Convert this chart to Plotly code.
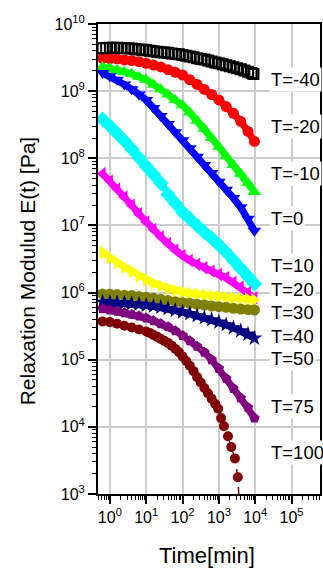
import plotly.graph_objects as go

# ---- data (time in min, modulus in Pa) ----
time_min = [0.63, 1.0, 1.58, 2.51, 3.98, 6.31, 10, 15.8, 25.1, 39.8, 63.1, 100,
            158, 251, 398, 631, 1000, 1585, 2512, 3981, 6310, 9500]
time_m40 = [0.63, 0.79, 1.0, 1.26, 1.58, 2.0, 2.51, 3.16, 3.98, 5.01, 6.31, 7.94, 10, 12.6,
            15.8, 20, 25.1, 31.6, 39.8, 50.1, 63.1, 79.4, 100, 126, 158, 200, 251, 316, 398,
            501, 631, 794, 1000, 1259, 1585, 1995, 2512, 3162, 3981, 5012, 6310, 7943, 8913]
time_100 = [0.63, 1.0, 1.58, 2.51, 3.98, 6.31, 10, 12.6, 15.8, 20, 25.1, 31.6, 39.8, 50.1,
            63.1, 79.4, 100, 126, 158, 200, 251, 316, 398, 501, 631, 794,
            955, 1148, 1380, 1778, 2188, 2754, 3311, 4169]

E_m40 = [4.365e9, 4.385e9, 4.416e9, 4.416e9, 4.416e9, 4.395e9, 4.365e9, 4.345e9, 4.315e9,
         4.246e9, 4.169e9, 4.121e9, 4.074e9, 4.009e9, 3.936e9, 3.873e9, 3.802e9, 3.758e9,
         3.715e9, 3.648e9, 3.589e9, 3.532e9, 3.467e9, 3.373e9, 3.273e9, 3.184e9, 3.090e9,
         3.020e9, 2.951e9, 2.851e9, 2.754e9, 2.679e9, 2.600e9, 2.512e9, 2.427e9, 2.344e9,
         2.265e9, 2.188e9, 2.113e9, 2.032e9, 1.950e9, 1.862e9, 1.799e9]
E_m20 = [3.09e9, 3.05e9, 3.02e9, 2.92e9, 2.85e9, 2.75e9, 2.60e9, 2.45e9, 2.29e9, 2.09e9, 1.91e9,
         1.74e9, 1.48e9, 1.26e9, 1.06e9, 8.91e8, 7.41e8, 5.89e8, 4.68e8, 3.55e8, 2.51e8, 1.78e8]
E_m10 = [2.29e9, 2.19e9, 2.07e9, 1.93e9, 1.80e9, 1.64e9, 1.48e9, 1.26e9, 1.07e9, 8.91e8, 7.41e8,
         6.17e8, 4.79e8, 3.63e8, 2.75e8, 2.00e8, 1.48e8, 1.07e8, 7.94e7, 5.89e7, 4.27e7, 3.16e7]
E_0 = [1.86e9, 1.66e9, 1.48e9, 1.26e9, 1.07e9, 8.91e8, 7.41e8, 5.62e8, 4.27e8, 3.24e8, 2.45e8,
       1.86e8, 1.41e8, 1.05e8, 7.94e7, 6.03e7, 4.47e7, 3.39e7, 2.57e7, 1.86e7, 1.26e7, 8.32e6]
E_10 = [3.80e8, 3.02e8, 2.34e8, 1.82e8, 1.38e8, 1.02e8, 7.59e7, 5.75e7, 4.27e7, 2.88e7, 2.14e7,
        1.58e7, 1.26e7, 1.00e7, 7.94e6, 6.46e6, 5.13e6, 3.98e6, 3.02e6, 2.29e6, 1.74e6, 1.35e6]
E_20 = [5.89e7, 4.57e7, 3.47e7, 2.63e7, 2.00e7, 1.48e7, 1.12e7, 8.71e6, 6.76e6, 5.37e6, 4.27e6,
        3.55e6, 3.02e6, 2.63e6, 2.34e6, 2.09e6, 1.86e6, 1.66e6, 1.41e6, 1.20e6, 1.00e6, 8.32e5]
E_30 = [3.98e6, 3.31e6, 2.82e6, 2.40e6, 2.09e6, 1.78e6, 1.55e6, 1.38e6, 1.26e6, 1.15e6, 1.07e6,
        1.02e6, 9.77e5, 9.44e5, 9.12e5, 8.91e5, 8.71e5, 8.51e5, 8.32e5, 8.13e5, 7.94e5, 7.76e5]
E_40 = [9.55e5, 9.44e5, 9.33e5, 9.12e5, 9.02e5, 8.71e5, 8.51e5, 8.22e5, 7.94e5, 7.59e5, 7.33e5,
        7.08e5, 6.92e5, 6.68e5, 6.53e5, 6.31e5, 6.17e5, 6.03e5, 5.82e5, 5.69e5, 5.56e5, 5.50e5]
E_50 = [7.24e5, 7.16e5, 7.08e5, 7.00e5, 6.84e5, 6.68e5, 6.46e5, 6.24e5, 6.03e5, 5.75e5, 5.43e5,
        5.13e5, 4.84e5, 4.52e5, 4.22e5, 3.94e5, 3.63e5, 3.31e5, 2.99e5, 2.69e5, 2.40e5, 2.09e5]
E_75 = [5.75e5, 5.50e5, 5.25e5, 5.01e5, 4.73e5, 4.47e5, 4.17e5, 3.80e5, 3.43e5, 3.09e5, 2.69e5,
        2.29e5, 1.91e5, 1.58e5, 1.29e5, 1.00e5, 7.41e4, 5.25e4, 3.72e4, 2.69e4, 1.95e4, 1.35e4]
E_100 = [3.72e5, 3.63e5, 3.43e5, 3.20e5, 3.02e5, 2.82e5, 2.63e5, 2.51e5, 2.34e5, 2.19e5, 2.04e5,
         1.91e5, 1.78e5, 1.62e5, 1.45e5, 1.29e5, 1.12e5, 9.55e4, 8.13e4, 6.76e4, 5.50e4, 4.57e4,
         3.80e4, 3.16e4, 2.63e4, 2.19e4,
         1.86e4, 1.35e4, 1.02e4, 7.24e3, 5.01e3, 3.39e3, 1.78e3, 200]

labels = ["T=-40", "T=-20", "T=-10", "T=0", "T=10", "T=20", "T=30", "T=40", "T=50", "T=75", "T=100"]
label_logE = [9.18, 8.47, 7.78, 7.10, 6.41, 6.05, 5.71, 5.35, 5.025, 4.30, 3.625]

x_tickvals = [1, 10, 100, 1000, 10000, 100000]
x_ticktext = ["10<sup>0</sup>", "10<sup>1</sup>", "10<sup>2</sup>", "10<sup>3</sup>",
              "10<sup>4</sup>", "10<sup>5</sup>"]
y_tickvals = [1e3, 1e4, 1e5, 1e6, 1e7, 1e8, 1e9, 1e10]
y_ticktext = ["10<sup>3</sup>", "10<sup>4</sup>", "10<sup>5</sup>", "10<sup>6</sup>",
              "10<sup>7</sup>", "10<sup>8</sup>", "10<sup>9</sup>", "10<sup>10</sup>"]

series = [
    ("T=-20", time_min, E_m20, "#FF0000", "circle", 11),
    ("T=-10", time_min, E_m10, "#00FF00", "triangle-up", 12),
    ("T=0", time_min, E_0, "#0000FF", "triangle-down", 12),
    ("T=10", time_min, E_10, "#00FFFF", "diamond", 12),
    ("T=20", time_min, E_20, "#FF00FF", "triangle-left", 12),
    ("T=30", time_min, E_30, "#FFFF00", "triangle-right", 12),
    ("T=40", time_min, E_40, "#808000", "circle", 11),
    ("T=50", time_min, E_50, "#000080", "star", 12),
    ("T=75", time_min, E_75, "#800080", "pentagon", 11),
]

fig = go.Figure()
for name, t, e, col, sym, sz in series:
    fig.add_trace(go.Scatter(
        x=t, y=e, name=name, mode="lines+markers",
        line=dict(color=col, width=7),
        marker=dict(symbol=sym, size=sz, color=col, line=dict(width=0)),
    ))

fig.add_trace(go.Scatter(
    x=time_100, y=E_100, name="T=100", mode="lines+markers",
    line=dict(color="#800000", width=1.5, dash="dash"),
    marker=dict(symbol="circle", size=10, color="#800000", line=dict(width=0)),
))
fig.add_trace(go.Scatter(
    x=time_m40, y=E_m40, name="T=-40", mode="markers",
    marker=dict(symbol="square-open", size=10, color="#000000",
                line=dict(width=2, color="#000000")),
))

minor_x = [m * 10 ** d for d in range(-1, 6) for m in range(2, 10)]
minor_y = [m * 10 ** d for d in range(3, 10) for m in range(2, 10)]

axis_font = dict(family="Liberation Sans, Arial", size=16, color="black")

fig.update_xaxes(
    type="log", range=[-0.327, 5.782],
    tickmode="array", tickvals=x_tickvals, ticktext=x_ticktext,
    ticks="outside", ticklen=8, tickwidth=1.5, tickcolor="black",
    minor=dict(tickmode="array", tickvals=minor_x, ticks="outside", ticklen=4,
               tickwidth=1, tickcolor="black", showgrid=False),
    showgrid=True, gridcolor="#cccccc", gridwidth=1.5,
    showline=True, linecolor="black", linewidth=2, mirror=True,
    tickfont=axis_font, zeroline=False,
)
fig.update_yaxes(
    type="log", range=[3, 10],
    tickmode="array", tickvals=y_tickvals, ticktext=y_ticktext,
    ticks="outside", ticklen=8, tickwidth=1.5, tickcolor="black",
    minor=dict(tickmode="array", tickvals=minor_y, ticks="outside", ticklen=4,
               tickwidth=1, tickcolor="black", showgrid=False),
    showgrid=True, gridcolor="#cccccc", gridwidth=1.5,
    showline=True, linecolor="black", linewidth=2, mirror=True,
    tickfont=axis_font, zeroline=False,
)

for txt, ly in zip(labels, label_logE):
    fig.add_annotation(x=4.37, y=ly, xref="x", yref="y", text=txt, showarrow=False,
                       xanchor="left", yanchor="middle", bgcolor="white",
                       font=dict(family="Liberation Sans, Arial", size=18.5, color="black"))

fig.add_annotation(x=-0.317, y=0.473, xref="paper", yref="paper",
                   text="Relaxation Modulud E(t) [Pa]", textangle=-90, showarrow=False,
                   xanchor="center", yanchor="middle",
                   font=dict(family="Liberation Sans, Arial", size=21, color="black"))
fig.add_annotation(x=0.489, y=-0.13, xref="paper", yref="paper",
                   text="Time[min]", showarrow=False, xanchor="center", yanchor="middle",
                   font=dict(family="Liberation Sans, Arial", size=22, color="black"))

fig.update_layout(
    width=323, height=568,
    margin=dict(l=98, r=1, t=24, b=74),
    plot_bgcolor="white", paper_bgcolor="white",
    showlegend=False,
)

fig.write_html("out.html")
